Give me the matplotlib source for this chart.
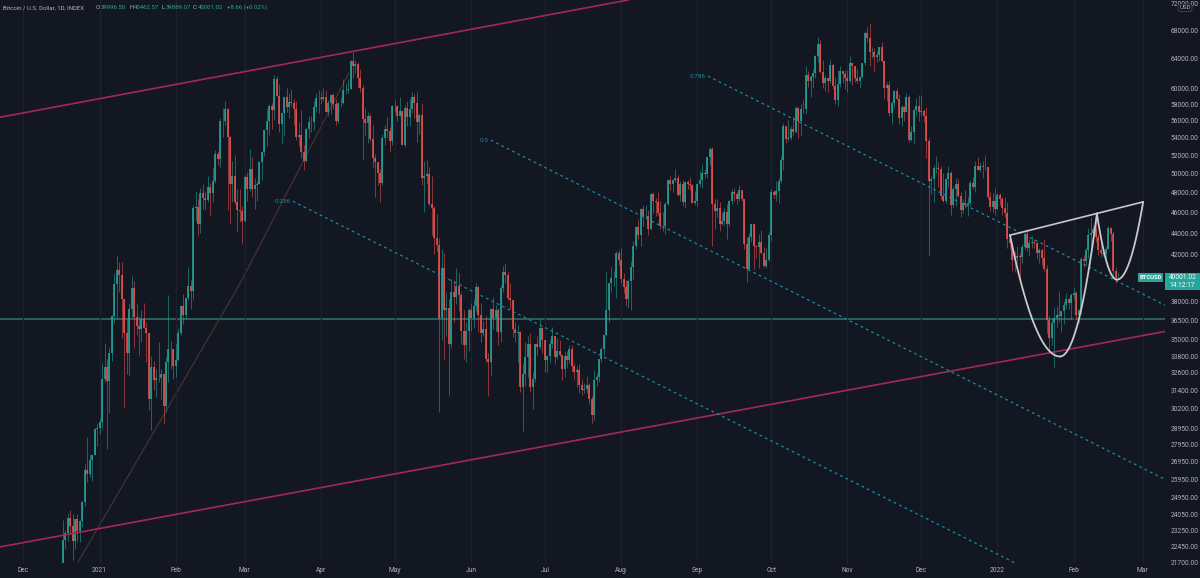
import numpy as np
import pandas as pd
import matplotlib
matplotlib.use('Agg')
import matplotlib.pyplot as plt
import matplotlib.dates as mdates
from matplotlib.patches import Rectangle, FancyBboxPatch
from matplotlib.ticker import NullLocator

# BTCUSD INDEX daily candles, 17 Dec 2020 .. 19 Feb 2022 (thousands USD)
first_open = 21.35
closes = [
    # Dec 2020
    22.80, 23.14, 23.87, 23.48, 22.75, 23.82, 23.25, 23.72, 24.70, 26.46, 26.27, 27.04, 27.37, 28.88, 28.95,
    # Jan 2021
    29.37, 32.19, 33.00, 32.03, 34.05, 36.86, 39.47, 40.67, 40.24, 38.24, 35.55, 34.05, 37.39, 39.14, 36.77, 36.03,
    35.80, 36.63, 35.91, 35.51, 30.85, 33.00, 32.10, 32.27, 32.25, 32.50, 30.40, 33.40, 34.30, 34.30, 33.10,
    # Feb
    33.50, 35.50, 37.65, 36.95, 38.30, 39.25, 38.85, 46.45, 46.50, 44.85, 47.95, 47.40, 47.20, 48.60, 47.90, 49.15,
    52.15, 51.60, 55.90, 55.90, 57.40, 54.10, 48.85, 49.70, 47.05, 46.25, 46.15, 45.20,
    # Mar
    49.60, 48.40, 50.45, 48.40, 48.80, 48.90, 51.20, 52.35, 54.90, 55.90, 57.80, 57.25, 61.20, 59.00, 55.60, 56.90,
    58.90, 57.60, 58.30, 58.10, 57.35, 54.10, 54.35, 52.30, 51.30, 55.05, 55.85, 55.80, 57.60, 58.80, 58.80,
    # Apr
    58.70, 58.95, 57.10, 58.20, 59.10, 58.00, 56.00, 58.10, 58.10, 59.80, 59.85, 59.90, 63.60, 62.90, 63.20, 61.40,
    60.00, 56.20, 55.70, 56.50, 53.80, 51.70, 51.20, 50.10, 49.00, 54.00, 55.00, 54.80, 53.60, 57.80,
    # May
    57.80, 56.60, 57.20, 53.20, 57.50, 56.40, 57.40, 58.90, 58.20, 55.80, 56.70, 49.50, 49.70, 49.90, 46.80, 46.40,
    43.50, 42.90, 36.70, 40.80, 37.30, 37.50, 34.70, 38.80, 38.40, 39.30, 38.50, 35.70, 34.60, 35.70, 37.30,
    # Jun
    36.70, 37.60, 39.20, 36.90, 35.50, 35.80, 33.60, 33.40, 37.40, 36.70, 37.30, 35.60, 39.10, 40.50, 40.20, 38.30,
    38.10, 35.80, 35.50, 35.60, 31.60, 32.50, 33.70, 34.70, 31.60, 32.20, 34.70, 34.50, 35.90, 35.00,
    # Jul
    33.50, 33.80, 34.70, 35.30, 33.70, 34.20, 33.90, 32.90, 33.80, 33.50, 34.30, 33.10, 32.70, 32.80, 31.80, 31.40,
    31.50, 31.80, 30.80, 29.80, 32.10, 32.30, 33.60, 34.30, 35.40, 37.30, 39.50, 40.00, 40.00, 42.20, 41.50,
    # Aug
    39.90, 39.20, 38.20, 39.70, 40.90, 42.80, 44.60, 43.80, 46.30, 45.60, 45.60, 44.40, 47.80, 47.10, 47.00, 45.90,
    44.70, 44.70, 46.80, 49.30, 48.90, 49.30, 49.50, 47.70, 48.90, 47.00, 49.10, 48.90, 48.80, 46.90, 47.10,
    # Sep
    48.90, 49.30, 50.00, 49.90, 51.80, 52.70, 46.80, 46.10, 46.40, 44.90, 45.20, 46.00, 44.90, 47.10, 48.10, 47.80,
    47.30, 48.30, 47.30, 43.00, 40.70, 43.60, 44.90, 42.80, 42.70, 43.20, 42.20, 41.00, 41.50, 43.80,
    # Oct
    48.10, 47.70, 48.20, 49.20, 51.50, 55.30, 53.80, 53.90, 55.00, 54.70, 57.50, 56.00, 57.40, 57.40, 61.70, 60.90,
    61.50, 62.00, 64.30, 66.00, 62.20, 60.70, 61.30, 60.90, 63.10, 60.30, 58.50, 60.60, 62.30, 61.90, 61.30,
    # Nov
    61.00, 63.30, 62.90, 61.40, 61.00, 61.50, 63.30, 67.50, 66.90, 64.90, 64.90, 64.20, 64.40, 65.50, 63.60, 60.10,
    60.40, 56.90, 58.10, 59.70, 58.70, 56.30, 57.60, 57.10, 58.90, 53.70, 54.70, 57.30, 57.80, 57.00,
    # Dec
    57.20, 56.50, 53.60, 49.20, 49.40, 50.60, 50.60, 50.50, 47.60, 47.10, 49.40, 50.10, 46.70, 48.40, 48.90, 47.60,
    46.20, 46.90, 46.70, 46.90, 49.00, 48.60, 50.80, 50.40, 50.80, 50.70, 50.70, 47.50, 46.50, 47.10, 46.30,
    # Jan 2022
    47.70, 47.30, 46.40, 45.90, 43.40, 43.10, 41.50, 41.70, 41.90, 41.80, 42.70, 43.90, 42.60, 43.10, 43.20, 43.10,
    42.20, 42.40, 41.70, 40.70, 36.50, 35.10, 36.30, 36.70, 36.90, 36.80, 37.20, 37.70, 38.20, 37.90, 38.50,
    # Feb 2022
    38.70, 36.90, 37.30, 41.60, 41.40, 42.40, 43.80, 44.00, 44.40, 43.60, 42.40, 42.20, 42.10, 42.50, 44.50, 43.90,
    40.60, 39.99, 40.00,
]
highs = [
    23.80, 23.28, 24.17, 24.29, 24.10, 23.84, 24.10, 23.78, 24.79, 26.87, 28.42, 27.40, 27.37, 28.99, 29.30,
    29.60, 33.30, 34.79, 33.60, 34.44, 36.88, 40.37, 41.95, 41.36, 41.35, 38.24, 36.60, 37.85, 40.10, 39.70, 37.90,
    36.80, 37.30, 37.85, 36.40, 35.55, 33.80, 33.45, 32.90, 34.85, 32.90, 32.55, 33.75, 38.50, 34.90, 34.30,
    34.70, 35.90, 37.70, 38.60, 38.30, 40.95, 39.75, 46.75, 48.15, 47.30, 48.50, 48.90, 48.15, 49.70, 49.00, 50.60,
    52.60, 52.50, 56.35, 57.50, 58.35, 57.55, 54.20, 51.35, 52.00, 48.40, 48.40, 46.65,
    49.80, 50.20, 52.65, 51.75, 49.50, 49.20, 51.40, 52.40, 54.90, 57.35, 58.00, 58.10, 61.80, 61.60, 60.60, 56.95,
    58.95, 60.10, 59.45, 59.90, 58.60, 58.40, 55.80, 57.25, 53.20, 55.10, 56.60, 56.50, 58.40, 59.35, 59.80,
    59.50, 60.00, 59.75, 58.50, 59.30, 59.45, 58.65, 58.15, 58.90, 61.20, 60.70, 61.25, 63.75, 64.90, 63.80, 63.55,
    62.50, 60.40, 57.50, 57.00, 56.80, 55.45, 52.10, 51.20, 50.50, 54.40, 55.45, 56.40, 55.20, 57.95,
    58.50, 57.90, 58.90, 57.20, 57.95, 58.35, 58.60, 59.50, 59.30, 59.55, 56.90, 58.00, 51.30, 51.50, 50.70, 49.70,
    46.60, 45.80, 43.50, 42.50, 42.20, 38.80, 38.20, 39.90, 39.80, 40.80, 40.40, 38.80, 37.30, 36.40, 37.50,
    37.90, 38.20, 39.50, 39.30, 37.90, 36.45, 36.80, 34.00, 37.50, 38.40, 37.70, 37.45, 39.40, 41.00, 41.30, 40.50,
    39.50, 38.20, 36.40, 36.10, 35.70, 33.30, 34.80, 35.30, 35.50, 32.70, 34.70, 35.30, 36.60, 36.00,
    35.00, 33.90, 34.95, 35.95, 35.30, 35.10, 35.00, 33.90, 34.10, 34.20, 34.60, 34.60, 33.30, 33.10, 33.20, 32.20,
    31.90, 32.40, 31.90, 31.00, 32.80, 32.60, 33.60, 34.50, 35.40, 40.50, 39.50, 40.90, 40.60, 42.30, 42.40,
    42.60, 40.40, 39.80, 39.90, 41.40, 43.30, 44.70, 45.30, 46.40, 46.70, 46.70, 46.20, 47.90, 48.10, 47.40, 48.00,
    47.10, 46.00, 47.00, 49.30, 49.70, 49.40, 50.50, 49.80, 49.20, 49.30, 49.10, 49.30, 49.60, 48.90, 48.20,
    49.00, 50.30, 51.00, 50.50, 51.80, 52.90, 52.90, 47.30, 47.30, 47.00, 45.90, 46.40, 46.80, 47.20, 48.40, 48.50,
    48.10, 48.80, 48.30, 47.30, 43.60, 44.00, 44.90, 45.00, 42.90, 43.90, 44.30, 42.70, 42.60, 44.10,
    48.40, 48.30, 49.20, 49.50, 51.90, 55.70, 55.30, 56.10, 55.40, 56.50, 57.80, 57.70, 58.00, 58.50, 62.90, 62.30,
    61.70, 62.60, 64.40, 67.00, 66.60, 63.70, 61.70, 61.40, 63.70, 63.30, 61.50, 62.40, 62.90, 62.30, 62.40,
    62.40, 64.30, 63.50, 63.00, 62.60, 61.60, 63.30, 67.80, 68.50, 69.00, 65.50, 65.40, 65.00, 65.50, 66.30, 63.60,
    60.80, 60.90, 58.40, 59.80, 60.00, 59.30, 57.90, 57.80, 59.40, 59.20, 55.30, 57.40, 58.80, 59.20,
    59.10, 57.40, 57.60, 53.90, 49.70, 50.90, 51.90, 51.20, 50.80, 50.00, 49.50, 50.80, 50.30, 48.70, 49.50, 49.40,
    48.00, 47.30, 48.30, 47.50, 49.30, 49.60, 51.40, 51.80, 51.20, 51.30, 52.00, 50.70, 48.10, 47.90, 48.50,
    47.90, 47.90, 47.50, 47.50, 47.00, 43.70, 43.10, 42.30, 42.80, 42.20, 43.00, 44.30, 44.40, 43.40, 43.70, 43.40,
    43.20, 42.60, 42.50, 43.40, 41.10, 36.80, 36.60, 37.50, 37.60, 38.90, 37.20, 38.00, 38.70, 38.30, 38.70,
    39.20, 38.90, 37.40, 41.80, 42.00, 42.60, 44.50, 45.50, 44.80, 45.80, 43.90, 43.00, 42.70, 42.80, 44.70, 44.60,
    44.20, 40.90, 40.46,
]
lows = [
    21.23, 22.35, 22.75, 23.07, 21.82, 22.36, 22.70, 22.70, 23.43, 24.51, 25.82, 26.10, 25.88, 27.32, 27.85,
    28.62, 28.95, 32.00, 27.68, 29.90, 33.42, 36.30, 36.60, 38.75, 35.11, 30.26, 32.50, 32.40, 36.70, 34.40, 35.40,
    33.90, 34.80, 35.90, 33.40, 30.10, 28.85, 31.40, 30.95, 31.95, 30.85, 29.25, 29.95, 31.95, 32.85, 32.15,
    32.30, 33.45, 35.40, 36.20, 36.60, 38.15, 37.40, 38.10, 45.15, 43.75, 44.00, 46.30, 46.20, 47.00, 45.75, 47.00,
    48.95, 50.90, 50.70, 54.05, 55.50, 46.20, 44.90, 47.05, 46.80, 44.10, 45.05, 43.00,
    45.10, 47.10, 48.20, 47.50, 46.30, 47.10, 48.90, 49.30, 51.85, 53.05, 54.30, 55.00, 56.10, 59.00, 54.60, 53.30,
    54.15, 57.00, 56.30, 57.80, 55.50, 53.70, 53.05, 51.70, 50.40, 51.25, 53.95, 54.70, 54.90, 57.05, 56.90,
    58.00, 58.45, 57.00, 56.50, 56.80, 57.35, 55.50, 55.70, 57.70, 58.00, 59.30, 59.40, 59.90, 61.30, 62.00, 60.00,
    59.60, 51.50, 54.20, 53.40, 53.60, 50.60, 47.50, 48.80, 47.00, 48.80, 53.20, 53.90, 52.40, 53.10,
    57.10, 56.00, 56.50, 53.10, 52.90, 55.30, 55.30, 56.90, 56.30, 53.50, 54.40, 48.80, 46.00, 48.90, 46.60, 43.80,
    42.10, 42.30, 30.00, 35.00, 33.50, 35.30, 31.10, 34.40, 36.40, 37.80, 37.20, 34.70, 33.60, 33.40, 34.20,
    35.70, 35.90, 37.20, 35.60, 34.80, 35.30, 33.40, 31.00, 32.40, 35.80, 35.70, 34.60, 34.80, 38.80, 39.50, 38.10,
    37.40, 35.20, 34.80, 33.40, 31.30, 28.80, 31.70, 32.30, 31.30, 30.20, 32.00, 33.90, 34.30, 34.00,
    32.70, 32.70, 33.30, 34.40, 33.20, 33.60, 33.80, 32.10, 32.30, 33.00, 33.30, 32.70, 32.20, 31.60, 31.20, 31.10,
    31.20, 31.20, 30.50, 29.30, 29.50, 31.70, 32.00, 33.40, 33.90, 35.30, 36.40, 38.80, 39.30, 38.30, 41.10,
    39.50, 38.70, 37.60, 37.50, 37.30, 39.90, 42.50, 43.40, 42.80, 44.70, 45.40, 43.80, 44.30, 45.90, 45.60, 45.70,
    44.40, 44.20, 43.90, 46.70, 48.30, 48.00, 49.10, 47.60, 47.10, 46.60, 46.40, 48.40, 48.30, 46.90, 46.70,
    46.60, 48.60, 48.50, 49.50, 49.50, 50.90, 42.80, 44.40, 45.50, 44.20, 44.80, 44.80, 43.40, 44.70, 46.80, 47.10,
    46.80, 47.10, 47.10, 42.50, 39.60, 40.60, 43.20, 40.70, 41.70, 40.80, 42.10, 40.90, 40.80, 41.40,
    43.30, 47.40, 47.10, 46.90, 49.00, 50.40, 53.40, 53.60, 53.70, 54.20, 54.50, 54.00, 54.20, 56.90, 56.80, 60.20,
    58.90, 60.00, 61.40, 63.50, 62.00, 60.00, 59.70, 59.60, 60.70, 59.90, 58.00, 57.80, 60.20, 60.70, 59.90,
    59.50, 60.70, 60.40, 60.80, 60.70, 60.10, 61.40, 63.10, 66.30, 63.00, 64.10, 62.30, 63.50, 63.60, 63.50, 58.60,
    58.40, 56.50, 55.60, 57.50, 58.50, 55.60, 55.40, 55.90, 57.00, 53.50, 53.60, 53.30, 56.70, 56.00,
    56.50, 55.80, 51.70, 42.00, 47.80, 47.00, 50.10, 48.60, 47.30, 47.00, 46.90, 48.60, 45.70, 46.40, 46.60, 47.50,
    45.50, 45.90, 46.40, 45.60, 46.60, 48.40, 48.00, 50.40, 50.20, 49.50, 50.40, 47.30, 46.10, 46.00, 45.70,
    46.20, 46.70, 45.70, 45.50, 42.60, 42.50, 40.60, 40.50, 41.30, 39.70, 41.30, 42.50, 42.30, 41.90, 42.60, 42.60,
    41.60, 41.30, 41.10, 40.60, 35.50, 34.00, 34.60, 33.00, 36.00, 36.40, 35.60, 36.20, 37.40, 37.40, 36.60,
    38.20, 36.60, 36.30, 37.00, 40.90, 41.10, 41.70, 42.70, 43.20, 43.20, 42.00, 41.80, 41.90, 41.60, 42.50, 43.30,
    40.10, 39.50, 39.89,
]
start_date = '2020-12-17'

# drawings (date, price anchors)
channel_top_dates = ['2020-11-21 12:00', '2021-08-03 20:00']
channel_top_prices = [56400, 72520]
channel_bot_dates = ['2020-11-21 12:00', '2022-03-10 02:00']
channel_bot_prices = [22450, 35630]
trend_dates = ['2020-12-23 02:00', '2021-02-27 02:00', '2021-04-12 07:00']
trend_prices = [21700, 39480, 62000]
fib_levels = ['0.236', '0.5', '0.786']
fib_start_dates = ['2021-03-20 14:00', '2021-06-09 00:00', '2021-09-05 07:00']
fib_start_prices = [47100, 53700, 61600]
fib_end_dates = ['2022-01-08 00:00', '2022-03-10 02:00', '2022-03-10 02:00']
fib_end_prices = [21700, 25950, 37700]
hline_price = 36600
rim_dates = ['2022-01-06 02:00', '2022-03-01 05:00']
rim_prices = [43800, 47040]
cup_dates = ['2022-01-06 02:00', '2022-01-26 10:00', '2022-02-10 10:00']
cup_prices = [43800, 33770, 45890]
handle_dates = ['2022-02-10 10:00', '2022-02-18 14:00', '2022-03-01 05:00']
handle_prices = [45890, 39820, 47040]

price_ticks = [72000, 68000, 64000, 60000, 58000, 56000, 54000, 52000, 50000, 48000, 46000, 44000, 42000,
               38000, 36500, 35000, 33800, 32600, 31400, 30200, 28950, 27950, 26950, 25950, 24950, 24050,
               23250, 22450, 21700]
month_labels = ['Dec', '2021', 'Feb', 'Mar', 'Apr', 'May', 'Jun', 'Jul', 'Aug', 'Sep', 'Oct', 'Nov', 'Dec',
                '2022', 'Feb', 'Mar']
header_title = 'Bitcoin / U.S. Dollar, 1D, INDEX'
header_ohlc = [('O', '39996.50'), ('H', '40462.57'), ('L', '39889.07'), ('C', '40001.02')]
header_change = '+8.66 (+0.02%)'

BG = '#131722'
UP = '#26a69a'
DOWN = '#ef5350'
TXT = '#b2b5be'
plt.rcParams['font.family'] = ['Roboto', 'DejaVu Sans']

W, H = 1200, 578
fig = plt.figure(figsize=(12, 5.78), dpi=100, facecolor=BG)
ax = fig.add_axes([0, 15 / H, 1165 / W, 563 / H])
ax.set_facecolor(BG)

dates = pd.date_range(start_date, periods=len(closes), freq='D')
x = mdates.date2num(dates)
c = np.array(closes) * 1000
hi = np.array(highs) * 1000
lo = np.array(lows) * 1000
o = np.r_[first_open, closes[:-1]] * 1000
up = c >= o

def dn(lst):
    return mdates.date2num(pd.to_datetime(lst))

# annotations under candles
ax.axhline(hline_price, color='#2d6663', lw=1.3, zorder=1)
ax.plot(dn(trend_dates), trend_prices, color='#4d3431', lw=0.8, zorder=1)

# candles
ax.vlines(x[up], lo[up], hi[up], color=UP, lw=0.7, alpha=0.55, zorder=2)
ax.vlines(x[~up], lo[~up], hi[~up], color=DOWN, lw=0.7, alpha=0.55, zorder=2)
ax.vlines(x[up], o[up], c[up], color=UP, lw=1.15, zorder=3)
ax.vlines(x[~up], o[~up], c[~up], color=DOWN, lw=1.15, zorder=3)

# channel
ax.plot(dn(channel_top_dates), channel_top_prices, color='#a3285a', lw=1.2, zorder=4)
ax.plot(dn(channel_bot_dates), channel_bot_prices, color='#a3285a', lw=1.2, zorder=4)

# fib lines
for lvl, d0, p0, d1, p1 in zip(fib_levels, fib_start_dates, fib_start_prices, fib_end_dates, fib_end_prices):
    ax.plot(dn([d0, d1]), [p0, p1], color='#1a8aa3', lw=0.9, ls=(0, (2.2, 2.6)), zorder=4)
    ax.annotate(lvl, (dn([d0])[0], p0), xytext=(-1.5, 0), textcoords='offset points',
                ha='right', va='center', color='#1a8aa3', fontsize=4.6, zorder=5)

# cup and handle
def half_arc(xe, ye, xv, yv, n=40):
    t = np.linspace(0, 1, n)
    ly = np.log(yv) + (np.log(ye) - np.log(yv)) * t ** 2
    return xv + (xe - xv) * t, np.exp(ly)

for ds, ps in [(cup_dates, cup_prices), (handle_dates, handle_prices)]:
    xs = dn(ds)
    for k in (0, 2):
        arc_x, arc_y = half_arc(xs[k], ps[k], xs[1], ps[1])
        ax.plot(arc_x, arc_y, color='#c9cacf', lw=1.3, zorder=6, solid_capstyle='round')
ax.plot(dn(rim_dates), rim_prices, color='#c9cacf', lw=1.2, zorder=6)

# axes
base = mdates.date2num(pd.Timestamp('2021-01-01'))
ax.set_xlim(base - 40.49, base + 433.1)
ax.set_yscale('log')
ax.set_ylim(21690, 72520)
ax.yaxis.tick_right()
ax.set_yticks(price_ticks)
ax.set_yticklabels([f'{v:.2f}' for v in price_ticks])
ax.yaxis.set_minor_locator(NullLocator())
month_ticks = pd.date_range('2020-12-01', '2022-03-01', freq='MS')
ax.set_xticks(mdates.date2num(month_ticks))
ax.set_xticklabels(month_labels)
ax.tick_params(axis='y', length=0, pad=4, labelsize=4.8, labelcolor=TXT)
ax.tick_params(axis='x', length=0, pad=3.2, labelsize=4.8, labelcolor=TXT)
ax.grid(axis='x', color='#1d212c', lw=0.9, zorder=0)
for s in ax.spines.values():
    s.set_visible(False)

# header, laid out left to right
renderer = fig.canvas.get_renderer()
hy = 1 - 7.5 / H

def put(px, s, col):
    t = fig.text(px / W, hy, s, color=col, fontsize=4.3, va='center', ha='left')
    bb = t.get_window_extent(renderer)
    return bb.x1

put(3, header_title, TXT)
for px, (letter, val) in zip([96, 129, 162, 193], header_ohlc):
    end = put(px, letter, TXT)
    put(end + 0.5, val, UP)
put(227, header_change, UP)

# price tags
fig.patches.append(Rectangle((1138 / W, 1 - 281.5 / H), 25 / W, 8.5 / H, transform=fig.transFigure,
                             facecolor=UP, edgecolor='none'))
fig.text(1150.5 / W, 1 - 277.3 / H, 'BTCUSD', color='white', fontsize=4.2, ha='center', va='center',
         fontweight='bold')
fig.patches.append(Rectangle((1165 / W, 1 - 289.5 / H), 35 / W, 16.5 / H, transform=fig.transFigure,
                             facecolor=UP, edgecolor='none'))
fig.text(1182.5 / W, 1 - 277.3 / H, '40001.02', color='white', fontsize=4.8, ha='center', va='center')
fig.text(1182.5 / W, 1 - 285.3 / H, '14:12:17', color='white', fontsize=4.8, ha='center', va='center')

# USD badge (sits over the clipped top tick label, as in the source)
fig.patches.append(FancyBboxPatch((1178 / W, 1 - 11.5 / H), 14 / W, 7.5 / H, transform=fig.transFigure,
                                  boxstyle='round,pad=0,rounding_size=0.003', facecolor=BG,
                                  edgecolor='#434651', lw=0.6))
fig.text(1185 / W, 1 - 7.8 / H, 'USD', color=TXT, fontsize=4.4, ha='center', va='center')

fig.savefig('out.png', dpi=100, facecolor=BG)
